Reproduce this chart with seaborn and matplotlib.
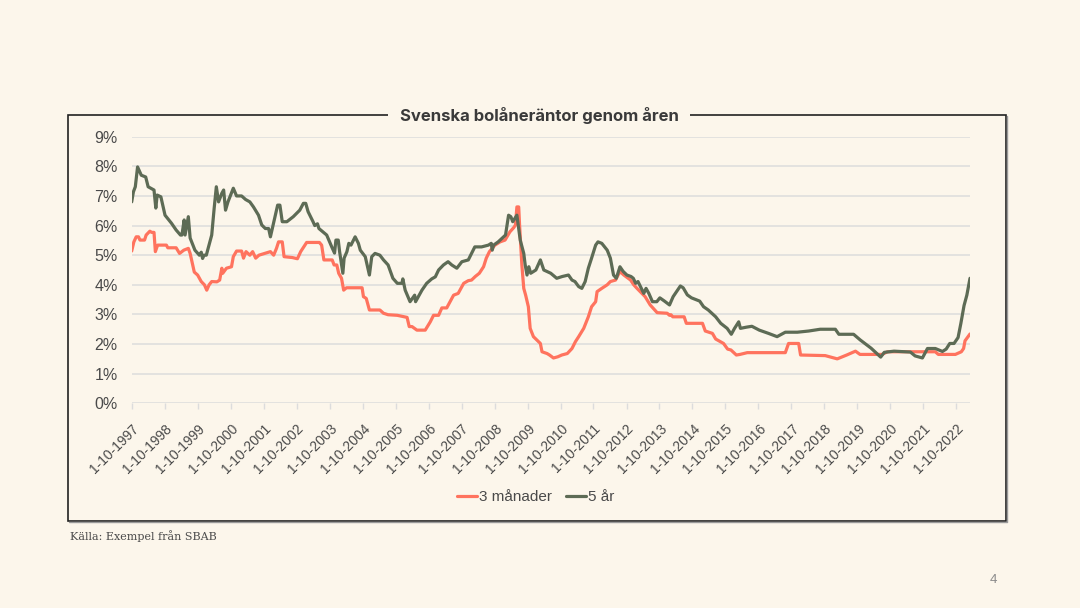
import numpy as np
import pandas as pd
import matplotlib
matplotlib.use('Agg')
import matplotlib.pyplot as plt
import matplotlib.dates as mdates
from matplotlib.patches import Rectangle
from matplotlib.lines import Line2D
from matplotlib.ticker import PercentFormatter
import seaborn as sns

BG = '#FCF6EB'
RED = '#FF735E'
GREEN = '#5D6B55'
TEXT = '#4A4A4A'

TITLE = 'Svenska bolåneräntor genom åren'
SOURCE = 'Källa: Exempel från SBAB'
PAGE = '4'
SERIES = ['3 månader', '5 år']

# 3 månader
dates_3m = [
    '1997-10-01', '1997-10-25', '1997-11-20', '1997-12-15', '1998-01-01', '1998-02-20', '1998-03-10',
    '1998-04-20', '1998-05-10', '1998-06-05', '1998-06-20', '1998-07-15', '1998-10-20', '1998-11-05',
    '1999-02-05', '1999-03-15', '1999-05-01', '1999-06-20', '1999-07-10', '1999-08-25', '1999-10-01',
    '1999-11-10', '1999-12-15', '2000-01-10', '2000-02-05', '2000-03-05', '2000-05-01', '2000-06-01',
    '2000-06-25', '2000-07-05', '2000-08-15', '2000-10-10', '2000-10-30', '2000-12-05', '2001-01-30',
    '2001-02-20', '2001-03-20', '2001-05-01', '2001-06-01', '2001-07-05', '2001-08-10', '2001-12-15',
    '2002-01-20', '2002-02-20', '2002-03-15', '2002-04-25', '2002-05-15', '2002-08-15', '2002-10-10',
    '2002-11-15', '2003-01-20', '2003-06-10', '2003-07-05', '2003-07-30', '2003-10-30', '2003-11-20',
    '2003-12-20', '2004-01-10', '2004-02-10', '2004-03-05', '2004-04-05', '2004-09-25', '2004-10-10',
    '2004-11-10', '2004-12-15', '2005-04-10', '2005-05-20', '2005-07-10', '2005-10-20', '2006-02-05',
    '2006-03-01', '2006-04-01', '2006-05-25', '2006-08-25', '2006-10-20', '2006-11-25', '2007-01-20',
    '2007-02-25', '2007-04-20', '2007-07-05', '2007-08-25', '2007-10-25', '2007-12-15', '2008-01-20',
    '2008-03-01', '2008-04-15', '2008-06-01', '2008-07-01', '2008-08-05', '2008-10-05', '2008-12-01',
    '2009-01-25', '2009-03-20', '2009-05-01', '2009-05-20', '2009-06-05', '2009-06-25', '2009-07-05',
    '2009-07-30', '2009-08-20', '2009-09-10', '2009-10-10', '2009-10-30', '2009-12-05', '2010-02-01',
    '2010-02-20', '2010-03-10', '2010-05-05', '2010-06-01', '2010-07-15', '2010-09-01', '2010-10-15',
    '2010-12-15', '2011-02-05', '2011-03-15', '2011-04-20', '2011-06-15', '2011-08-05', '2011-09-10',
    '2011-10-25', '2011-11-10', '2012-01-01', '2012-03-01', '2012-04-05', '2012-06-01', '2012-07-20',
    '2012-09-01', '2012-11-15', '2012-12-20', '2013-01-25', '2013-04-25', '2013-06-20', '2013-09-05',
    '2013-12-25', '2014-01-20', '2014-02-05', '2014-02-25', '2014-07-01', '2014-07-25', '2015-01-20',
    '2015-02-20', '2015-05-10', '2015-06-15', '2015-09-10', '2015-10-25', '2015-12-01', '2016-01-30',
    '2016-03-10', '2016-05-30', '2017-07-25', '2017-08-30', '2017-12-20', '2018-01-10', '2018-10-10',
    '2019-02-20', '2019-06-05', '2019-09-10', '2019-10-30', '2020-06-30', '2020-08-30', '2022-02-10',
    '2022-03-15', '2022-09-20', '2022-11-25', '2022-12-20', '2023-01-05', '2023-03-01',
]
rates_3m = [
    5.14, 5.45, 5.62, 5.62, 5.51, 5.51, 5.68,
    5.81, 5.77, 5.77, 5.12, 5.34, 5.34, 5.25,
    5.25, 5.06, 5.17, 5.23, 5.06, 4.43, 4.33,
    4.11, 4.00, 3.82, 4.00, 4.11, 4.10, 4.16,
    4.56, 4.39, 4.56, 4.61, 4.95, 5.14, 5.14,
    4.90, 5.12, 5.00, 5.12, 4.90, 5.00, 5.12,
    5.00, 5.23, 5.45, 5.45, 4.95, 4.92, 4.88,
    5.12, 5.43, 5.43, 5.34, 4.84, 4.84, 4.67,
    4.67, 4.39, 4.22, 3.82, 3.90, 3.90, 3.60,
    3.54, 3.15, 3.15, 3.04, 2.99, 2.97, 2.90,
    2.59, 2.59, 2.47, 2.47, 2.75, 2.97, 2.97,
    3.22, 3.22, 3.65, 3.71, 4.05, 4.14, 4.16,
    4.28, 4.39, 4.61, 4.90, 5.12, 5.34, 5.45,
    5.51, 5.79, 5.93, 6.02, 6.63, 6.63, 6.00,
    4.67, 3.88, 3.65, 3.26, 2.53, 2.25, 2.08,
    2.02, 1.74, 1.68, 1.63, 1.53, 1.57, 1.63,
    1.68, 1.85, 2.08, 2.25, 2.53, 2.92, 3.26,
    3.43, 3.77, 3.88, 4.00, 4.11, 4.16, 4.45,
    4.33, 4.16, 4.00, 3.88, 3.60, 3.32, 3.06,
    3.04, 2.97, 2.99, 2.92, 2.92, 2.70, 2.70,
    2.44, 2.36, 2.17, 2.02, 1.83, 1.80, 1.63,
    1.65, 1.71, 1.71, 2.02, 2.02, 1.63, 1.61,
    1.50, 1.63, 1.76, 1.65, 1.65, 1.74, 1.74,
    1.65, 1.65, 1.74, 1.85, 2.11, 2.34,
]

# 5 år
dates_5y = [
    '1997-10-01', '1997-10-20', '1997-11-10', '1997-12-05', '1998-01-15', '1998-03-05', '1998-04-01',
    '1998-06-05', '1998-06-25', '1998-07-10', '1998-08-20', '1998-10-05', '1998-12-15', '1999-02-05',
    '1999-03-25', '1999-04-10', '1999-05-05', '1999-05-15', '1999-06-20', '1999-07-10', '1999-09-01',
    '1999-10-20', '1999-11-10', '1999-11-25', '1999-12-10', '2000-01-05', '2000-03-05', '2000-04-01',
    '2000-04-25', '2000-05-20', '2000-06-25', '2000-07-15', '2000-08-05', '2000-09-01', '2000-10-30',
    '2000-12-05', '2001-01-30', '2001-03-15', '2001-05-01', '2001-06-10', '2001-08-05', '2001-09-10',
    '2001-10-20', '2001-11-25', '2001-12-15', '2002-01-20', '2002-03-05', '2002-03-30', '2002-04-25',
    '2002-06-15', '2002-08-25', '2002-11-05', '2002-12-15', '2003-01-10', '2003-02-05', '2003-04-01',
    '2003-04-20', '2003-05-20', '2003-06-05', '2003-08-30', '2003-10-25', '2003-11-25', '2003-12-10',
    '2004-01-05', '2004-01-20', '2004-02-25', '2004-03-10', '2004-04-10', '2004-05-01', '2004-05-25',
    '2004-07-10', '2004-08-15', '2004-09-05', '2004-10-30', '2004-12-15', '2005-01-10', '2005-02-15',
    '2005-04-10', '2005-05-20', '2005-07-10', '2005-09-01', '2005-10-20', '2005-12-10', '2005-12-20',
    '2006-01-15', '2006-03-10', '2006-04-05', '2006-04-30', '2006-05-10', '2006-07-20', '2006-09-10',
    '2006-11-05', '2006-12-15', '2007-01-20', '2007-03-15', '2007-05-05', '2007-06-15', '2007-08-10',
    '2007-10-05', '2007-12-15', '2008-02-25', '2008-05-10', '2008-07-25', '2008-08-25', '2008-09-05',
    '2008-09-20', '2008-11-10', '2009-01-30', '2009-03-05', '2009-03-30', '2009-04-20', '2009-06-05',
    '2009-06-20', '2009-07-12', '2009-08-20', '2009-09-05', '2009-09-25', '2009-10-15', '2009-11-05',
    '2010-01-01', '2010-02-20', '2010-03-30', '2010-06-15', '2010-08-20', '2010-10-20', '2010-12-28',
    '2011-02-05', '2011-03-10', '2011-04-20', '2011-05-25', '2011-07-01', '2011-08-05', '2011-09-10',
    '2011-10-25', '2011-11-20', '2012-01-01', '2012-03-01', '2012-04-05', '2012-05-10', '2012-06-10',
    '2012-07-20', '2012-08-25', '2012-10-05', '2012-11-20', '2012-12-15', '2013-01-10', '2013-02-05',
    '2013-04-10', '2013-05-05', '2013-06-05', '2013-07-15', '2013-09-01', '2013-10-05', '2013-11-25',
    '2014-01-20', '2014-03-01', '2014-03-25', '2014-05-20', '2014-06-20', '2014-08-05', '2014-09-20',
    '2014-12-20', '2015-02-01', '2015-03-25', '2015-06-15', '2015-08-10', '2015-10-20', '2015-12-05',
    '2016-01-10', '2016-02-25', '2016-03-15', '2016-05-20', '2016-07-20', '2016-10-10', '2017-01-20',
    '2017-04-25', '2017-07-25', '2017-12-05', '2018-04-10', '2018-08-15', '2019-01-30', '2019-03-10',
    '2019-08-20', '2019-11-01', '2020-03-01', '2020-06-15', '2020-07-25', '2020-11-10', '2021-05-10',
    '2021-07-01', '2021-09-20', '2021-11-15', '2022-02-10', '2022-04-30', '2022-06-10', '2022-07-20',
    '2022-09-05', '2022-10-20', '2022-11-20', '2022-12-25', '2023-01-25', '2023-03-01',
]
rates_5y = [
    6.80, 7.14, 7.31, 7.98, 7.70, 7.64, 7.31,
    7.20, 6.59, 7.03, 6.97, 6.35, 6.08, 5.85,
    5.68, 5.68, 6.19, 5.68, 6.30, 5.58, 5.17,
    5.00, 5.10, 4.89, 5.00, 5.00, 5.68, 6.58,
    7.31, 6.80, 7.09, 7.20, 6.52, 6.80, 7.26,
    7.00, 7.00, 6.88, 6.80, 6.63, 6.35, 6.02,
    5.90, 5.90, 5.62, 6.10, 6.69, 6.69, 6.13,
    6.13, 6.30, 6.52, 6.75, 6.75, 6.47, 6.13,
    6.00, 6.06, 5.90, 5.68, 5.28, 5.07, 5.51,
    5.51, 5.12, 4.39, 4.90, 5.12, 5.40, 5.34,
    5.62, 5.40, 5.17, 4.95, 4.33, 4.95, 5.06,
    5.00, 4.84, 4.67, 4.22, 4.05, 4.05, 4.20,
    3.82, 3.43, 3.54, 3.65, 3.43, 3.82, 4.05,
    4.20, 4.27, 4.50, 4.67, 4.78, 4.67, 4.56,
    4.78, 4.84, 5.28, 5.28, 5.34, 5.40, 5.17,
    5.34, 5.45, 5.68, 6.35, 6.30, 6.13, 6.35,
    6.02, 5.51, 5.06, 4.67, 4.33, 4.61, 4.39,
    4.50, 4.84, 4.50, 4.39, 4.22, 4.28, 4.33,
    4.16, 4.11, 3.94, 3.88, 4.11, 4.56, 4.90,
    5.34, 5.45, 5.40, 5.17, 4.90, 4.33, 4.22,
    4.61, 4.45, 4.33, 4.28, 4.22, 4.05, 4.11,
    3.71, 3.88, 3.71, 3.43, 3.43, 3.56, 3.45,
    3.32, 3.60, 3.71, 3.96, 3.90, 3.66, 3.56,
    3.45, 3.26, 3.15, 2.92, 2.70, 2.53, 2.33,
    2.53, 2.75, 2.53, 2.57, 2.60, 2.47, 2.36,
    2.25, 2.40, 2.40, 2.44, 2.50, 2.50, 2.33,
    2.33, 2.14, 1.86, 1.56, 1.72, 1.76, 1.73,
    1.60, 1.53, 1.85, 1.85, 1.75, 1.83, 2.02,
    2.02, 2.22, 2.70, 3.30, 3.65, 4.22,
]

Y_TICKS = list(range(0, 10))


def build_frame() -> pd.DataFrame:
    short = pd.DataFrame({'datum': pd.to_datetime(dates_3m), 'ränta': rates_3m, 'serie': SERIES[0]})
    long = pd.DataFrame({'datum': pd.to_datetime(dates_5y), 'ränta': rates_5y, 'serie': SERIES[1]})
    return pd.concat([short, long], ignore_index=True)


def draw(data: pd.DataFrame):
    sns.set_theme(style='white', rc={'figure.facecolor': BG, 'axes.facecolor': BG})
    plt.rcParams['font.family'] = ['Liberation Sans', 'DejaVu Sans']

    fig = plt.figure(figsize=(10.8, 6.08), dpi=100)
    ax = fig.add_axes([131.7 / 1080, 1 - 403.3 / 608, (970 - 131.7) / 1080, (403.3 - 136.7) / 608])

    sns.lineplot(data=data, x='datum', y='ränta', hue='serie', palette=[RED, GREEN],
                 estimator=None, sort=True, linewidth=2.3, ax=ax, zorder=3)

    ax.set_ylim(0, 9)
    ax.set_xlim(data['datum'].min(), data['datum'].max())
    ax.set_yticks(Y_TICKS)
    ax.yaxis.set_major_formatter(PercentFormatter(decimals=0))
    ax.grid(axis='y', color='#DCDCDC', linewidth=1.1)
    ax.grid(axis='x', visible=False)
    sns.despine(ax=ax, left=True, top=True, right=True, bottom=True)

    ax.xaxis.set_major_locator(mdates.YearLocator(base=1, month=10, day=1))
    ax.xaxis.set_major_formatter(mdates.DateFormatter('1-%m-%Y'))
    ax.tick_params(axis='x', bottom=True, length=4, width=1, color='#DCDCDC',
                   labelsize=10, labelcolor=TEXT, pad=9)
    ax.tick_params(axis='y', left=False, labelsize=11.5, labelcolor=TEXT, pad=4)
    for label in ax.get_xticklabels():
        label.set_rotation(45)
        label.set_ha('right')
        label.set_rotation_mode('anchor')

    ax.set_xlabel('')
    ax.set_ylabel('')

    handles, labels = ax.get_legend_handles_labels()
    ax.legend(handles, labels, loc='center', bbox_to_anchor=(536 / 1080, 1 - 497 / 608),
              bbox_transform=fig.transFigure, ncol=2, frameon=False, fontsize=11,
              handlelength=1.3, handletextpad=0.15, columnspacing=0.9, labelcolor=TEXT)

    # ram runt diagrammet, med en svag skugga nere och till höger
    left, right, top, bottom = 68 / 1080, 1006 / 1080, 1 - 115 / 608, 1 - 521 / 608
    dx, dy = 1.2 / 1080, 1.2 / 608
    fig.lines.append(Line2D([left + dx, right + dx, right + dx], [bottom - dy, bottom - dy, top - dy],
                            transform=fig.transFigure, color='#9A9A9A', linewidth=1.0))
    frame = Rectangle((left, bottom), right - left, top - bottom,
                      transform=fig.transFigure, fill=False, edgecolor='#222222', linewidth=1.2)
    fig.patches.append(frame)
    fig.text(539 / 1080, top, TITLE, ha='center', va='center', fontsize=12,
             fontweight='bold', color='#3A3A3A', family=['Inter', 'DejaVu Sans'],
             bbox=dict(facecolor=BG, edgecolor='none', pad=8))

    fig.text(70 / 1080, 1 - 536 / 608, SOURCE, ha='left', va='center', fontsize=8,
             color=TEXT, family=['DejaVu Serif'])
    fig.text(993 / 1080, 1 - 580 / 608, PAGE, ha='center', va='center', fontsize=9.5, color='#8A8A8A')

    fig.savefig('out.png', dpi=100, facecolor=BG)


def main():
    data = build_frame()
    draw(data)


if __name__ == '__main__':
    main()
